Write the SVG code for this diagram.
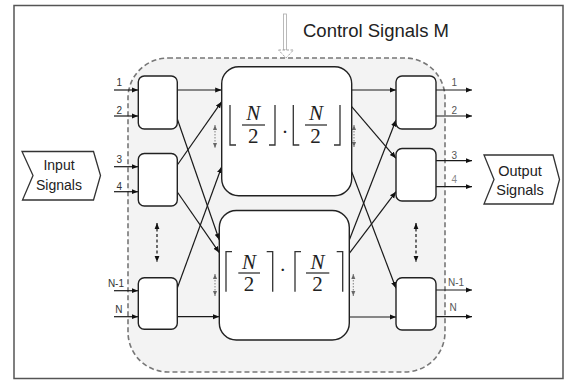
<svg xmlns="http://www.w3.org/2000/svg" width="564" height="384" viewBox="0 0 564 384">
<style>
.lbl{font-family:"Liberation Sans",Arial,sans-serif;font-size:10px;fill:#333}
.lblr{font-family:"Liberation Sans",Arial,sans-serif;font-size:10px;fill:#555}
.big{font-family:"Liberation Sans",Arial,sans-serif;fill:#222}
.math{font-family:"Liberation Serif","Times New Roman",serif;font-size:21px;fill:#222;text-anchor:middle}
.box{fill:#fff;stroke:#222;stroke-width:1.4}
.ln{stroke:#1a1a1a;stroke-width:1.2;fill:none;marker-end:url(#ah)}
.br{stroke:#333;stroke-width:1.3;fill:none}
.dd{stroke:#111;stroke-width:1.2;stroke-dasharray:3 2.5;fill:none;marker-start:url(#ah2);marker-end:url(#ah2)}
.sd{stroke:#888;stroke-width:1.1;stroke-dasharray:1.5 1.5;fill:none;marker-start:url(#ah3);marker-end:url(#ah3)}
</style>
<defs>
<marker id="ah" viewBox="0 0 10 10" refX="10" refY="5" markerWidth="6.5" markerHeight="6.5" markerUnits="userSpaceOnUse" orient="auto"><path d="M0,1 L10,5 L0,9 z" fill="#111"/></marker>
<marker id="ah2" viewBox="0 0 10 10" refX="10" refY="5" markerWidth="6" markerHeight="6" markerUnits="userSpaceOnUse" orient="auto-start-reverse"><path d="M0,1 L10,5 L0,9 z" fill="#111"/></marker>
<marker id="ah3" viewBox="0 0 10 10" refX="10" refY="5" markerWidth="5" markerHeight="5" markerUnits="userSpaceOnUse" orient="auto-start-reverse"><path d="M0,1 L10,5 L0,9 z" fill="#666"/></marker>
</defs>
<rect x="0" y="0" width="564" height="384" fill="#fff"/>
<rect x="14" y="5.5" width="549" height="373" fill="none" stroke="#555" stroke-width="1.5"/>

<g id="network-region">
<rect x="128" y="58" width="317" height="314" rx="40" ry="40" fill="#f3f3f3" stroke="#777" stroke-width="1.6" stroke-dasharray="5 3"/>
</g>

<g id="control-signals">
<rect x="283.5" y="14" width="3" height="36" fill="#fff" stroke="#aaa" stroke-width="0.8"/>
<path d="M278.5,50 L293.5,50 L286,58 z" fill="#fff" stroke="#999" stroke-width="0.9" stroke-dasharray="2.5 1.5"/>
<text class="big" x="303" y="37.3" font-size="18.5">Control Signals M</text>
</g>

<g id="input-signals">
<polygon points="22,151.5 93.5,151.5 100.5,175.5 93.5,200 22.5,200 33,175.5" fill="#fff" stroke="#333" stroke-width="1.3"/>
<text class="big" x="59" y="170" font-size="14" text-anchor="middle">Input</text>
<text class="big" x="59" y="189.5" font-size="14" text-anchor="middle">Signals</text>
</g>

<g id="output-signals">
<polygon points="484,155 553,155 559.5,179.5 553,204 484,204 494,179.5" fill="#fff" stroke="#333" stroke-width="1.3"/>
<text class="big" x="520" y="175.5" font-size="14.5" text-anchor="middle">Output</text>
<text class="big" x="520" y="195" font-size="14.5" text-anchor="middle">Signals</text>
</g>

<g id="connectors">
<line class="ln" x1="114" y1="90" x2="138" y2="90"/>
<line class="ln" x1="114" y1="116" x2="138" y2="116"/>
<line class="ln" x1="114" y1="166.7" x2="138" y2="166.7"/>
<line class="ln" x1="114" y1="191.7" x2="138" y2="191.7"/>
<line class="ln" x1="114" y1="290.7" x2="138" y2="290.7"/>
<line class="ln" x1="114" y1="316.7" x2="138" y2="316.7"/>

<line class="ln" x1="177.3" y1="90" x2="221.7" y2="90"/>
<line class="ln" x1="177.3" y1="119" x2="219.3" y2="240"/>
<line class="ln" x1="177.3" y1="165" x2="221.7" y2="101.7"/>
<line class="ln" x1="177.3" y1="192" x2="219.3" y2="252.7"/>
<line class="ln" x1="177.3" y1="288" x2="221.7" y2="166.7"/>
<line class="ln" x1="177.3" y1="316.7" x2="219.3" y2="316.7"/>

<line class="ln" x1="351.7" y1="90" x2="396" y2="90"/>
<line class="ln" x1="351.7" y1="106.7" x2="396" y2="158.3"/>
<line class="ln" x1="351.7" y1="171.7" x2="396" y2="288.3"/>
<line class="ln" x1="349.3" y1="240" x2="396" y2="120"/>
<line class="ln" x1="349.3" y1="253.3" x2="396" y2="191.7"/>
<line class="ln" x1="349.3" y1="317" x2="396" y2="317"/>

<line class="ln" x1="436" y1="90" x2="472" y2="90"/>
<line class="ln" x1="436" y1="116" x2="472" y2="116"/>
<line class="ln" x1="436" y1="160.7" x2="472" y2="160.7"/>
<line class="ln" x1="436" y1="186.7" x2="472" y2="186.7"/>
<line class="ln" x1="436" y1="290" x2="472" y2="290"/>
<line class="ln" x1="436" y1="316.7" x2="472" y2="316.7"/>

<line class="dd" x1="157" y1="223" x2="157" y2="262"/>
<line class="dd" x1="416" y1="223" x2="416" y2="262"/>
<line class="sd" x1="215" y1="125" x2="215" y2="148"/>
<line class="sd" x1="354" y1="125" x2="354" y2="147"/>
<line class="sd" x1="215" y1="274" x2="215" y2="296"/>
<line class="sd" x1="353.3" y1="274" x2="353.3" y2="296"/>
</g>

<g id="port-labels">
<text class="lbl" x="122" y="86" text-anchor="end">1</text>
<text class="lbl" x="122" y="114" text-anchor="end">2</text>
<text class="lbl" x="122" y="163" text-anchor="end">3</text>
<text class="lbl" x="122" y="189.5" text-anchor="end">4</text>
<text class="lbl" x="124" y="287" text-anchor="end">N-1</text>
<text class="lbl" x="122.5" y="313" text-anchor="end">N</text>
<text class="lblr" x="451.5" y="86">1</text>
<text class="lblr" x="451.5" y="114">2</text>
<text class="lblr" x="451.5" y="159">3</text>
<text class="lblr" x="451.5" y="182.5" style="fill:#888">4</text>
<text class="lblr" x="448" y="286">N-1</text>
<text class="lblr" x="449.5" y="311">N</text>
</g>

<g id="in-switch-1"><rect class="box" x="138.3" y="76" width="39" height="53" rx="6"/></g>
<g id="in-switch-2"><rect class="box" x="138.3" y="153.5" width="39" height="52.5" rx="6"/></g>
<g id="in-switch-3"><rect class="box" x="138.3" y="277.7" width="39" height="51.5" rx="6"/></g>
<g id="out-switch-1"><rect class="box" x="396" y="76" width="40" height="53" rx="6"/></g>
<g id="out-switch-2"><rect class="box" x="396" y="148.5" width="40" height="52.5" rx="6"/></g>
<g id="out-switch-3"><rect class="box" x="396" y="277.7" width="40" height="52.3" rx="6"/></g>

<g id="upper-subnetwork">
<rect class="box" x="221.7" y="66.7" width="130" height="129" rx="17"/>
<path class="br" d="M230,105 V145 H236 M275,105 V145 H269 M293.3,105 V145 H299.3 M340,105 V145 H334"/>
<text class="math" x="253.3" y="120" font-style="italic">N</text>
<line class="br" x1="242" y1="125" x2="265" y2="125"/>
<text class="math" x="253.3" y="143.3">2</text>
<text class="math" x="285" y="138.5">·</text>
<text class="math" x="316" y="120" font-style="italic">N</text>
<line class="br" x1="305" y1="125" x2="327" y2="125"/>
<text class="math" x="315.5" y="143.3">2</text>
</g>

<g id="lower-subnetwork">
<rect class="box" x="219.3" y="210.5" width="130" height="129.5" rx="17"/>
<path class="br" d="M226,291.7 V251.7 H232 M272.7,291.7 V251.7 H266.7 M295,291.7 V251.7 H301 M342.7,291.7 V251.7 H336.7"/>
<text class="math" x="249" y="269" font-style="italic">N</text>
<line class="br" x1="238.3" y1="273" x2="260" y2="273"/>
<text class="math" x="249" y="291">2</text>
<text class="math" x="282.7" y="277">·</text>
<text class="math" x="317.5" y="269" font-style="italic">N</text>
<line class="br" x1="306" y1="273" x2="329.3" y2="273"/>
<text class="math" x="317.5" y="291">2</text>
</g>
</svg>
